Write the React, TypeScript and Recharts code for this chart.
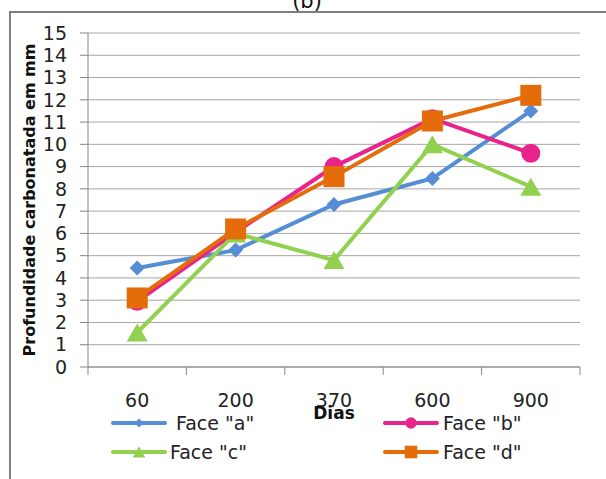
import { LineChart, Line, XAxis, YAxis, CartesianGrid, Legend } from "recharts";

// days of exposure and carbonation depth (mm) per face
const days = ["60", "200", "370", "600", "900"];
const faceA = [4.45, 5.25, 7.3, 8.47, 11.5];
const faceB = [2.95, 6.05, 9.0, 11.15, 9.6];
const faceC = [1.55, 6.0, 4.8, 10.0, 8.1];
const faceD = [3.1, 6.2, 8.55, 11.05, 12.2];
const yTicks = [0, 1, 2, 3, 4, 5, 6, 7, 8, 9, 10, 11, 12, 13, 14, 15];
const seriesNames = ['Face "a"', 'Face "b"', 'Face "c"', 'Face "d"'];

const W = 606;
const H = 479;
const PLOT_LEFT = 88;
const PLOT_RIGHT = 580;
const PLOT_TOP = 33;
const PLOT_BOTTOM = 367;
const HALF_BAND = (PLOT_RIGHT - PLOT_LEFT) / days.length / 2;

const FONT = "DejaVu Sans";
const GRID = "#a6a6a6";
const AXIS = "#868686";

type Shape = "diamond" | "circle" | "triangle" | "square";

const series: { key: string; name: string; color: string; shape: Shape }[] = [
  { key: "a", name: seriesNames[0], color: "#558ed5", shape: "diamond" },
  { key: "b", name: seriesNames[1], color: "#e8248c", shape: "circle" },
  { key: "c", name: seriesNames[2], color: "#92d050", shape: "triangle" },
  { key: "d", name: seriesNames[3], color: "#e46c0a", shape: "square" },
];

const chartData = days.map((d, i) => ({
  day: d,
  a: faceA[i],
  b: faceB[i],
  c: faceC[i],
  d: faceD[i],
}));

function Marker({ cx, cy, color, shape, scale = 1 }: any) {
  if (cx == null || cy == null) return null;
  if (shape === "diamond") {
    const w = 7.5 * scale;
    const h = 7.5 * scale;
    return <polygon points={`${cx},${cy - h} ${cx + w},${cy} ${cx},${cy + h} ${cx - w},${cy}`} fill={color} />;
  }
  if (shape === "circle") return <circle cx={cx} cy={cy} r={9.5 * scale} fill={color} />;
  if (shape === "triangle") {
    const w = 10.5 * scale;
    const h = 9 * scale;
    return <polygon points={`${cx},${cy - h} ${cx + w},${cy + h} ${cx - w},${cy + h}`} fill={color} />;
  }
  const s = 10.5 * scale;
  return <rect x={cx - s} y={cy - s} width={s * 2} height={s * 2} fill={color} />;
}

function DayTick({ x, y, payload, index }: any) {
  const axisY = y - 26;
  return (
    <g>
      <line x1={x - HALF_BAND} x2={x - HALF_BAND} y1={axisY} y2={axisY + 8} stroke={AXIS} />
      {index === days.length - 1 && (
        <line x1={x + HALF_BAND} x2={x + HALF_BAND} y1={axisY} y2={axisY + 8} stroke={AXIS} />
      )}
      <text x={x} y={y} dy="0.73em" textAnchor="middle" fontFamily={FONT} fontSize={19} fill="#222">
        {payload.value}
      </text>
    </g>
  );
}

// legend slots mimic the two-column Excel layout
const legendSlots = [
  { left: 111, top: 413, gap: 9 },
  { left: 383, top: 413, gap: 4 },
  { left: 111, top: 442, gap: 3 },
  { left: 383, top: 442, gap: 4 },
];

function FaceLegend() {
  return (
    <div style={{ position: "relative", width: W, height: H }}>
      {series.map((s, i) => (
        <div
          key={s.key}
          style={{
            position: "absolute",
            left: legendSlots[i].left,
            top: legendSlots[i].top,
            height: 20,
            display: "flex",
            alignItems: "center",
          }}
        >
          <svg width={56} height={20}>
            <line x1={2} x2={54} y1={10} y2={10} stroke={s.color} strokeWidth={4} strokeLinecap="round" />
            <Marker cx={28} cy={10} color={s.color} shape={s.shape} scale={0.6} />
          </svg>
          <span style={{ marginLeft: legendSlots[i].gap, fontFamily: FONT, fontSize: 19, color: "#222", whiteSpace: "nowrap" }}>
            {s.name}
          </span>
        </div>
      ))}
    </div>
  );
}

function YLabel({ viewBox }: any) {
  const cy = viewBox.y + viewBox.height / 2;
  return (
    <text
      x={29}
      y={cy}
      transform={`rotate(-90, 29, ${cy})`}
      textAnchor="middle"
      dominantBaseline="central"
      fontFamily={FONT}
      fontWeight="bold"
      fontSize={16}
      fill="#111"
    >
      Profundidade carbonatada em mm
    </text>
  );
}

export default function App() {
  return (
    <div style={{ position: "absolute", left: 0, top: 0, width: W, height: H, overflow: "hidden", background: "#fff" }}>
      {/* outer chart frame, cut off on the right and bottom */}
      <div
        style={{
          position: "absolute",
          left: 9,
          top: 11,
          width: 800,
          height: 800,
          borderLeft: "2px solid #7f7f7f",
          borderTop: "2px solid #7f7f7f",
        }}
      />
      <svg style={{ position: "absolute", left: 0, top: 0 }} width={W} height={20}>
        <text x={307} y={8} textAnchor="middle" fontFamily={FONT} fontSize={21} fill="#111">
          (b)
        </text>
      </svg>
      <div style={{ position: "absolute", left: 0, top: 0 }}>
        <LineChart
          width={W}
          height={H}
          data={chartData}
          margin={{ top: PLOT_TOP, right: W - PLOT_RIGHT, bottom: H - PLOT_BOTTOM - 60, left: 18 }}
        >
          <CartesianGrid vertical={false} stroke={GRID} />
          <XAxis
            dataKey="day"
            scale="band"
            height={60}
            tickLine={false}
            tickSize={8}
            tickMargin={18}
            axisLine={{ stroke: AXIS }}
            tick={<DayTick />}
            interval={0}
            label={{
              value: "Dias",
              position: "insideTop",
              offset: 40,
              fontFamily: FONT,
              fontWeight: "bold",
              fontSize: 17,
              fill: "#111",
            }}
          />
          <YAxis
            width={PLOT_LEFT - 18}
            domain={[0, 15]}
            ticks={yTicks}
            interval={0}
            tickSize={8}
            tickMargin={13}
            tickLine={{ stroke: AXIS }}
            axisLine={{ stroke: AXIS }}
            tick={{ fontFamily: FONT, fontSize: 19, fill: "#222" }}
            label={{ content: YLabel }}
          />
          <Legend
            layout="horizontal"
            verticalAlign="middle"
            align="center"
            wrapperStyle={{ left: 0, top: 0, width: W, height: H, pointerEvents: "none" }}
            content={() => <FaceLegend />}
          />
          {series.map((s) => (
            <Line
              key={s.key}
              type="linear"
              dataKey={s.key}
              name={s.name}
              stroke={s.color}
              strokeWidth={4}
              isAnimationActive={false}
              dot={(p: any) => <Marker key={`${s.key}-${p.index}`} cx={p.cx} cy={p.cy} color={s.color} shape={s.shape} />}
              activeDot={false}
            />
          ))}
        </LineChart>
      </div>
    </div>
  );
}
